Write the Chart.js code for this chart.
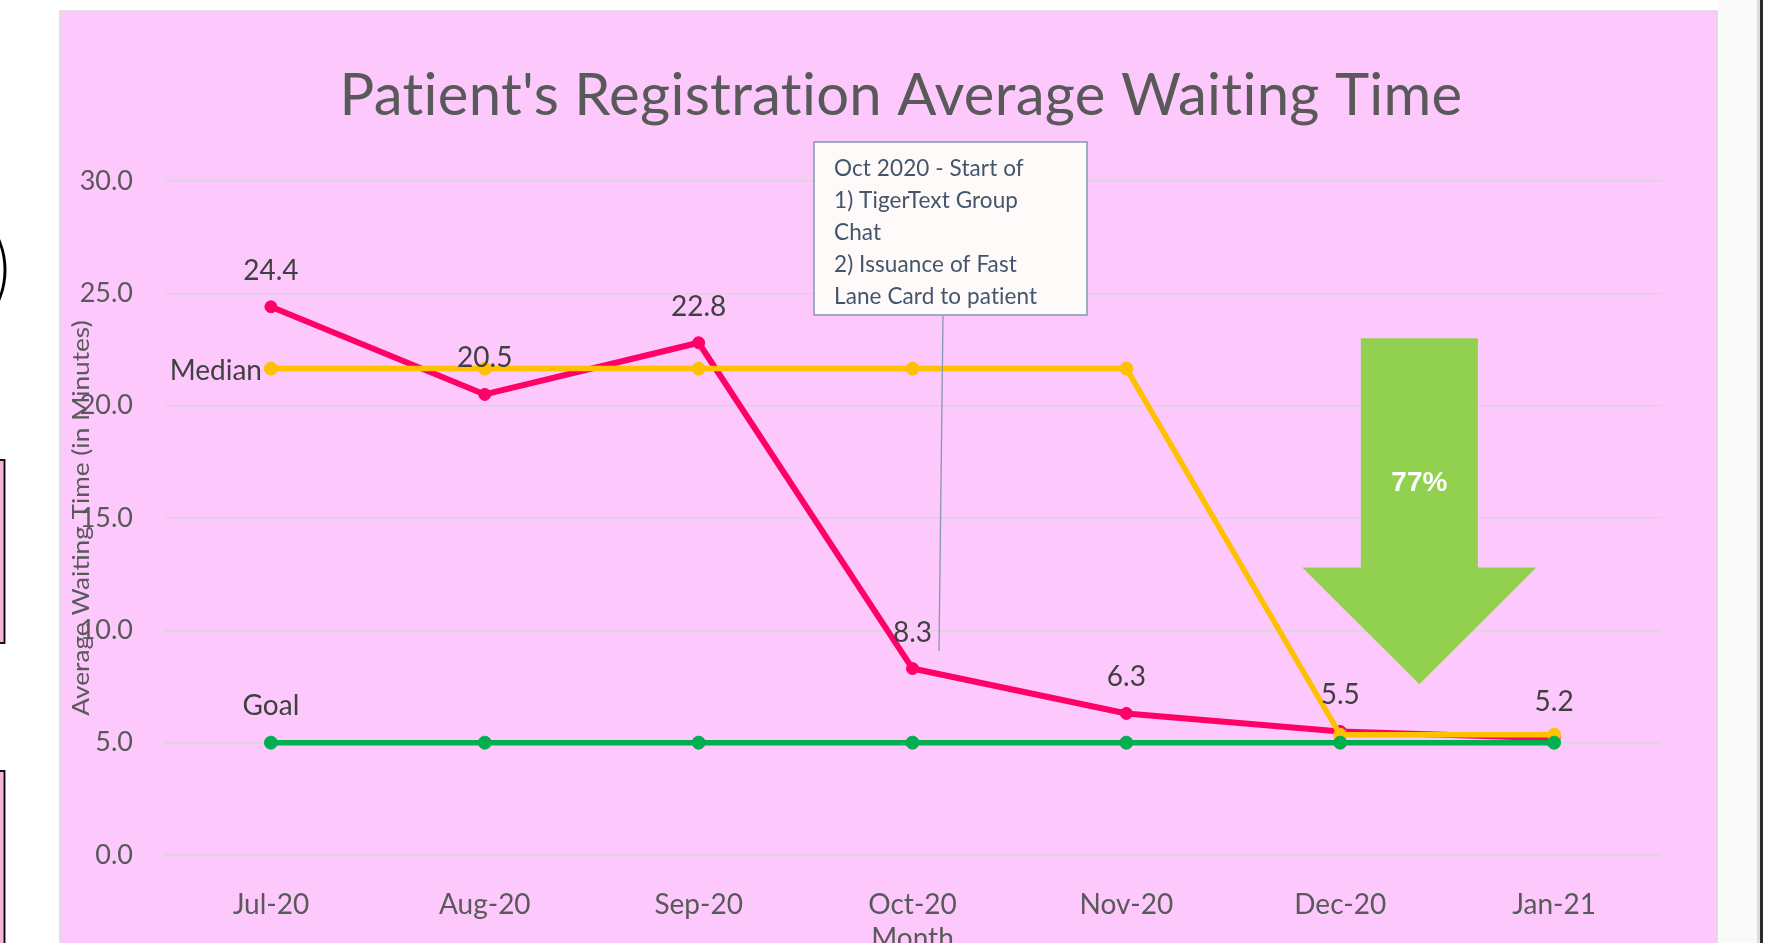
<!DOCTYPE html>
<html>
<head>
<meta charset="utf-8">
<title>Patient's Registration Average Waiting Time</title>
<script src="https://cdn.jsdelivr.net/npm/chart.js@4.4.0/dist/chart.umd.min.js"></script>
<style>
  html, body { margin: 0; padding: 0; background: #fff; overflow: hidden; }
  canvas { display: block; }
</style>
</head>
<body>
<canvas id="waitChart" width="1769" height="943"></canvas>
<script>
// Chart data
const months = ['Jul-20', 'Aug-20', 'Sep-20', 'Oct-20', 'Nov-20', 'Dec-20', 'Jan-21'];
const waitingTime = [24.4, 20.5, 22.8, 8.3, 6.3, 5.5, 5.2];
const medianLine = [21.65, 21.65, 21.65, 21.65, 21.65, 5.35, 5.35];
const goalLine = [5, 5, 5, 5, 5, 5, 5];
const yTicks = [0, 5, 10, 15, 20, 25, 30];

const chartTitle = "Patient's Registration Average Waiting Time";
const yTitle = 'Average Waiting Time (in Minutes)';
const calloutLines = ['Oct 2020 - Start of', '1) TigerText Group', 'Chat', '2) Issuance of Fast', 'Lane Card to patient'];
const reductionLabel = '77%';

const PINK = '#ff0066';
const YELLOW = '#ffc000';
const GREEN = '#00b050';

// Page background, pink panel and the cut-off shapes at the edges
const backdropPlugin = {
  id: 'backdrop',
  beforeDraw(chart) {
    const ctx = chart.ctx;
    ctx.save();
    ctx.fillStyle = '#ffffff';
    ctx.fillRect(0, 0, chart.width, chart.height);

    // panel
    ctx.fillStyle = '#fdc9fd';
    ctx.fillRect(60, 11, 1657, 940);
    ctx.strokeStyle = '#d9d9d9';
    ctx.lineWidth = 1.5;
    ctx.strokeRect(60, 11, 1657, 940);

    // right edge frame
    ctx.fillStyle = '#fafafa';
    ctx.fillRect(1718, 0, 42, chart.height);
    ctx.fillStyle = '#dddddd';
    ctx.fillRect(1757, 0, 3, chart.height);
    ctx.fillStyle = '#2b2b2b';
    ctx.fillRect(1760, 0, 3, chart.height);

    // left edge shapes (cut off)
    ctx.strokeStyle = '#000';
    ctx.lineWidth = 3;
    ctx.beginPath();
    ctx.arc(-70.5, 270, 75.5, -Math.PI / 2, Math.PI / 2);
    ctx.stroke();

    ctx.fillStyle = '#f3b6d6';
    ctx.lineWidth = 1.8;
    ctx.fillRect(-10, 460, 14.5, 183);
    ctx.strokeRect(-10, 460, 14.5, 183);
    ctx.fillRect(-10, 771, 14.5, 200);
    ctx.strokeRect(-10, 771, 14.5, 200);
    ctx.restore();
  },
  beforeDatasetsDraw(chart) {
    const ctx = chart.ctx;
    const area = chart.chartArea;
    ctx.save();
    ctx.letterSpacing = '0.3px';
    ctx.font = '58px Lato';
    ctx.fillStyle = '#595959';
    ctx.textAlign = 'center';
    ctx.textBaseline = 'alphabetic';
    ctx.fillText(chartTitle, 901, 115);

    // y axis title, slightly stretched like the original
    ctx.letterSpacing = '0px';
    ctx.font = '23px Lato';
    ctx.textBaseline = 'middle';
    ctx.translate(82, (area.top + area.bottom) / 2);
    ctx.rotate(-Math.PI / 2);
    ctx.scale(1.14, 1);
    ctx.fillText(yTitle, 0, 0);
    ctx.restore();
  }
};

// Callout, leader line, arrow and data labels
const annotationPlugin = {
  id: 'annotations',
  afterDatasetsDraw(chart) {
    const ctx = chart.ctx;
    const xs = chart.scales.x;
    const ys = chart.scales.y;
    ctx.save();

    // green arrow (positioned in data units)
    const ax = xs.getPixelForValue(5.37);
    const shaftHalf = 58.5, headHalf = 117;
    const yTop = ys.getPixelForValue(23.0);
    const yShoulder = ys.getPixelForValue(12.8);
    const yTip = ys.getPixelForValue(7.6);
    ctx.fillStyle = '#92d050';
    ctx.beginPath();
    ctx.moveTo(ax - shaftHalf, yTop);
    ctx.lineTo(ax + shaftHalf, yTop);
    ctx.lineTo(ax + shaftHalf, yShoulder);
    ctx.lineTo(ax + headHalf, yShoulder);
    ctx.lineTo(ax, yTip);
    ctx.lineTo(ax - headHalf, yShoulder);
    ctx.lineTo(ax - shaftHalf, yShoulder);
    ctx.closePath();
    ctx.fill();
    ctx.font = 'bold 28px "Liberation Sans"';
    ctx.fillStyle = '#ffffff';
    ctx.textAlign = 'center';
    ctx.textBaseline = 'middle';
    ctx.fillText(reductionLabel, ax, 483);

    // callout box
    ctx.fillStyle = '#fefafa';
    ctx.fillRect(814, 142, 273, 173);
    ctx.strokeStyle = '#8497b0';
    ctx.lineWidth = 1.5;
    ctx.strokeRect(814, 142, 273, 173);
    ctx.letterSpacing = '0.1px';
    ctx.font = '22.5px Lato';
    ctx.fillStyle = '#44546a';
    ctx.textAlign = 'left';
    calloutLines.forEach((line, i) => {
      ctx.fillText(line, 834, 169 + i * 32);
    });
    ctx.letterSpacing = '0px';

    // leader line
    ctx.lineWidth = 1.3;
    ctx.beginPath();
    ctx.moveTo(943, 316);
    ctx.lineTo(939, 651);
    ctx.stroke();

    // data labels
    ctx.font = '28px Lato';
    ctx.fillStyle = '#404040';
    ctx.textAlign = 'center';
    chart.getDatasetMeta(0).data.forEach((pt, i) => {
      ctx.fillText(waitingTime[i].toFixed(1), pt.x, pt.y - 36);
    });

    // series labels
    const medPt = chart.getDatasetMeta(1).data[0];
    ctx.textAlign = 'right';
    ctx.fillText('Median', medPt.x - 9, medPt.y + 2);
    const goalPt = chart.getDatasetMeta(2).data[0];
    ctx.textAlign = 'center';
    ctx.fillText('Goal', goalPt.x, goalPt.y - 37);

    ctx.restore();
  }
};

new Chart(document.getElementById('waitChart'), {
  type: 'line',
  data: {
    labels: months,
    datasets: [
      {
        label: 'Average Waiting Time',
        data: waitingTime,
        borderColor: PINK,
        backgroundColor: PINK,
        borderWidth: 6,
        pointRadius: 6,
        pointBorderWidth: 1,
        pointBorderColor: PINK,
        order: 3
      },
      {
        label: 'Median',
        data: medianLine,
        borderColor: YELLOW,
        backgroundColor: YELLOW,
        borderWidth: 5.5,
        pointRadius: 6.5,
        pointBorderWidth: 1,
        pointBorderColor: YELLOW,
        order: 2
      },
      {
        label: 'Goal',
        data: goalLine,
        borderColor: GREEN,
        backgroundColor: GREEN,
        borderWidth: 5.5,
        pointRadius: 6.5,
        pointBorderWidth: 1,
        pointBorderColor: GREEN,
        order: 1
      }
    ]
  },
  options: {
    responsive: false,
    animation: false,
    layout: { padding: { left: 0, top: 181, right: 108, bottom: 0 } },
    elements: { line: { tension: 0 } },
    plugins: {
      legend: { display: false },
      tooltip: { enabled: false },
      title: { display: false }
    },
    scales: {
      x: {
        offset: true,
        grid: { display: false },
        border: { display: false },
        ticks: {
          color: '#595959',
          font: { family: 'Lato', size: 28 },
          padding: 25,
          maxRotation: 0
        },
        title: {
          display: true,
          text: 'Month',
          color: '#595959',
          font: { family: 'Lato', size: 28 },
          padding: { top: 0, bottom: -13 }
        },
        afterFit: (scale) => { scale.height = 88; }
      },
      y: {
        min: 0,
        max: 30,
        afterBuildTicks: (scale) => { scale.ticks = yTicks.map(v => ({ value: v })); },
        grid: { color: '#dcd3dc', lineWidth: 1.4, drawTicks: false },
        border: { display: false },
        ticks: {
          color: '#595959',
          font: { family: 'Lato', size: 27 },
          padding: 31,
          callback: (v) => Number(v).toFixed(1)
        },
        afterFit: (scale) => { scale.width = 164; }
      }
    }
  },
  plugins: [backdropPlugin, annotationPlugin]
});
</script>
</body>
</html>
